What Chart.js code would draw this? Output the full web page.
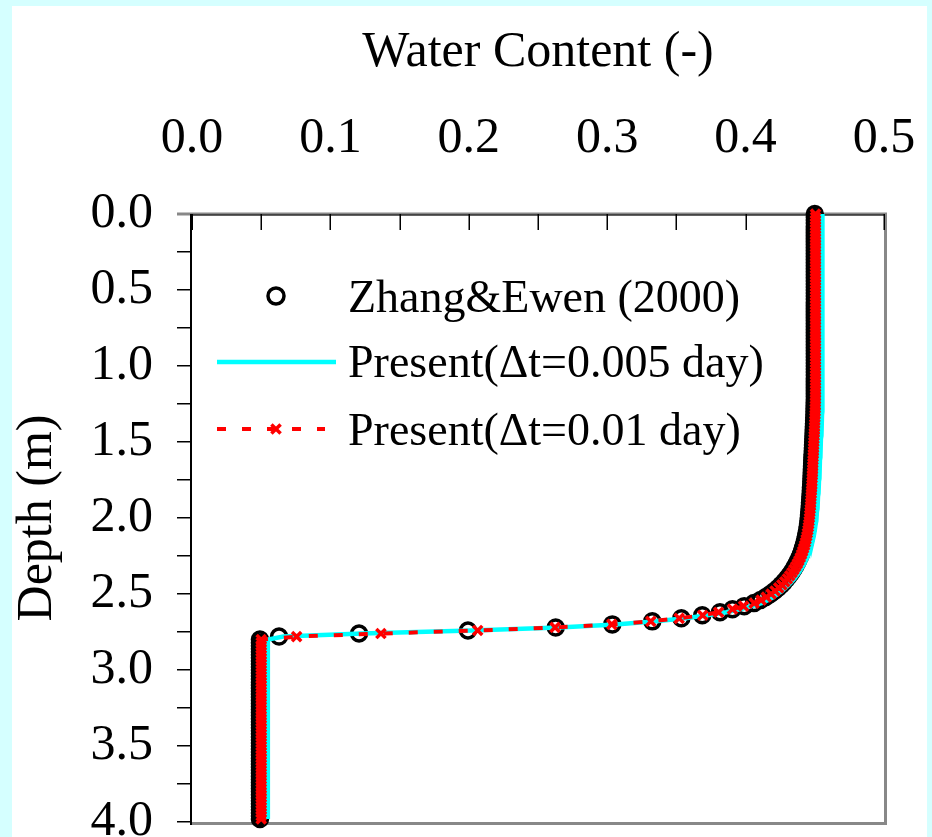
<!DOCTYPE html>
<html>
<head>
<meta charset="utf-8">
<script src="https://cdn.jsdelivr.net/npm/chart.js@4.4.1/dist/chart.umd.min.js"></script>
<style>
  html, body { margin:0; padding:0; background:#d5ffff; overflow:hidden; }
  #panel { position:absolute; left:12px; top:6px; width:915px; height:831px; background:#fff; }
  canvas { display:block; }
</style>
</head>
<body>
<div id="panel"><canvas id="chart" width="915" height="831"></canvas></div>
<script>
// ---------- Data ----------
// depth of the nodes (m)
const depthM = [
  0.00,0.02,0.04,0.06,0.08,0.10,0.12,0.14,0.16,0.18,
  0.20,0.22,0.24,0.26,0.28,0.30,0.32,0.34,0.36,0.38,
  0.40,0.42,0.44,0.46,0.48,0.50,0.52,0.54,0.56,0.58,
  0.60,0.62,0.64,0.66,0.68,0.70,0.72,0.74,0.76,0.78,
  0.80,0.82,0.84,0.86,0.88,0.90,0.92,0.94,0.96,0.98,
  1.00,1.02,1.04,1.06,1.08,1.10,1.12,1.14,1.16,1.18,
  1.20,1.22,1.24,1.26,1.28,1.30,1.32,1.34,1.36,1.38,
  1.40,1.42,1.44,1.46,1.48,1.50,1.52,1.54,1.56,1.58,
  1.60,1.62,1.64,1.66,1.68,1.70,1.72,1.74,1.76,1.78,
  1.80,1.82,1.84,1.86,1.88,1.90,1.92,1.94,1.96,1.98,
  2.00,2.02,2.04,2.06,2.08,2.10,2.12,2.14,2.16,2.18,
  2.20,2.22,2.24,2.26,2.28,2.30,2.32,2.34,2.36,2.38,
  2.40,2.42,2.44,2.46,2.48,2.50,2.52,2.54,2.56,2.58,
  2.60,2.62,2.64,2.66,2.68,2.70,2.72,2.74,2.76,2.78,
  2.80,2.82,2.84,2.86,2.88,2.90,2.92,2.94,2.96,2.98,
  3.00,3.02,3.04,3.06,3.08,3.10,3.12,3.14,3.16,3.18,
  3.20,3.22,3.24,3.26,3.28,3.30,3.32,3.34,3.36,3.38,
  3.40,3.42,3.44,3.46,3.48,3.50,3.52,3.54,3.56,3.58,
  3.60,3.62,3.64,3.66,3.68,3.70,3.72,3.74,3.76,3.78,
  3.80,3.82,3.84,3.86,3.88,3.90,3.92,3.94,3.96,3.98
];

// Zhang & Ewen (2000) water content
const zhangWC = [
  .4500,.4500,.4500,.4500,.4500,.4500,.4500,.4500,.4500,.4500,
  .4500,.4500,.4500,.4500,.4500,.4500,.4500,.4500,.4500,.4500,
  .4500,.4500,.4500,.4500,.4500,.4500,.4500,.4500,.4500,.4500,
  .4500,.4500,.4500,.4500,.4500,.4500,.4500,.4500,.4500,.4500,
  .4500,.4500,.4500,.4500,.4500,.4500,.4500,.4500,.4500,.4500,
  .4500,.4500,.4500,.4500,.4500,.4500,.4500,.4500,.4500,.4500,
  .4500,.4500,.4499,.4499,.4498,.4498,.4497,.4496,.4495,.4494,
  .4493,.4492,.4491,.4490,.4489,.4488,.4487,.4486,.4485,.4484,
  .4483,.4482,.4481,.4480,.4479,.4478,.4477,.4476,.4475,.4474,
  .4472,.4471,.4470,.4468,.4467,.4465,.4464,.4462,.4460,.4458,
  .4456,.4454,.4451,.4448,.4445,.4441,.4437,.4432,.4427,.4421,
  .4414,.4407,.4399,.4390,.4380,.4369,.4357,.4344,.4330,.4314,
  .4297,.4278,.4257,.4234,.4208,.4179,.4146,.4108,.4060,.3990,
  .3905,.3815,.3687,.3536,.3326,.3037,.2628,.1994,.1207,.0629,
  .0491,.0491,.0491,.0491,.0491,.0491,.0491,.0491,.0491,.0491,
  .0491,.0491,.0491,.0491,.0491,.0491,.0491,.0491,.0491,.0491,
  .0491,.0491,.0491,.0491,.0491,.0491,.0491,.0491,.0491,.0491,
  .0491,.0491,.0491,.0491,.0491,.0491,.0491,.0491,.0491,.0491,
  .0491,.0491,.0491,.0491,.0491,.0491,.0491,.0491,.0491,.0491,
  .0491,.0491,.0491,.0491,.0491,.0491,.0491,.0491,.0491,.0491
];

// present model, dt = 0.005 day
const presentWC005 = [
  .4555,.4555,.4555,.4555,.4555,.4555,.4555,.4555,.4555,.4555,
  .4555,.4555,.4555,.4555,.4555,.4555,.4555,.4555,.4555,.4555,
  .4555,.4555,.4555,.4555,.4555,.4555,.4555,.4555,.4555,.4555,
  .4555,.4555,.4555,.4555,.4555,.4555,.4555,.4555,.4555,.4555,
  .4555,.4555,.4555,.4555,.4555,.4555,.4555,.4555,.4555,.4555,
  .4555,.4555,.4555,.4555,.4555,.4555,.4555,.4555,.4555,.4555,
  .4555,.4555,.4554,.4554,.4553,.4553,.4552,.4551,.4550,.4549,
  .4548,.4547,.4546,.4545,.4544,.4543,.4542,.4541,.4540,.4539,
  .4538,.4537,.4536,.4535,.4534,.4533,.4532,.4531,.4530,.4529,
  .4527,.4526,.4525,.4523,.4522,.4520,.4519,.4517,.4515,.4513,
  .4511,.4509,.4506,.4503,.4500,.4496,.4492,.4487,.4482,.4476,
  .4469,.4462,.4454,.4445,.4435,.4424,.4412,.4399,.4385,.4369,
  .4352,.4333,.4312,.4289,.4263,.4234,.4201,.4163,.4115,.4045,
  .3960,.3860,.3725,.3565,.3350,.3060,.2650,.2020,.1230,.0660,
  .0548,.0548,.0548,.0548,.0548,.0548,.0548,.0548,.0548,.0548,
  .0548,.0548,.0548,.0548,.0548,.0548,.0548,.0548,.0548,.0548,
  .0548,.0548,.0548,.0548,.0548,.0548,.0548,.0548,.0548,.0548,
  .0548,.0548,.0548,.0548,.0548,.0548,.0548,.0548,.0548,.0548,
  .0548,.0548,.0548,.0548,.0548,.0548,.0548,.0548,.0548,.0548,
  .0548,.0548,.0548,.0548,.0548,.0548,.0548,.0548,.0548,.0548
];

// present model, dt = 0.01 day
const presentWC01 = [
  .4505,.4505,.4505,.4505,.4505,.4505,.4505,.4505,.4505,.4505,
  .4505,.4505,.4505,.4505,.4505,.4505,.4505,.4505,.4505,.4505,
  .4505,.4505,.4505,.4505,.4505,.4505,.4505,.4505,.4505,.4505,
  .4505,.4505,.4505,.4505,.4505,.4505,.4505,.4505,.4505,.4505,
  .4505,.4505,.4505,.4505,.4505,.4505,.4505,.4505,.4505,.4505,
  .4505,.4505,.4505,.4505,.4505,.4505,.4505,.4505,.4505,.4505,
  .4505,.4505,.4504,.4504,.4503,.4503,.4502,.4501,.4500,.4499,
  .4498,.4497,.4496,.4495,.4494,.4493,.4492,.4491,.4490,.4489,
  .4488,.4487,.4486,.4485,.4484,.4483,.4482,.4481,.4480,.4479,
  .4477,.4476,.4475,.4473,.4472,.4470,.4469,.4467,.4465,.4463,
  .4461,.4459,.4456,.4453,.4450,.4446,.4442,.4437,.4432,.4426,
  .4419,.4412,.4404,.4395,.4385,.4374,.4362,.4349,.4335,.4319,
  .4302,.4283,.4262,.4239,.4213,.4184,.4150,.4112,.4062,.3985,
  .3905,.3805,.3690,.3520,.3315,.3033,.2623,.2064,.1365,.0756,
  .0500,.0500,.0500,.0500,.0500,.0500,.0500,.0500,.0500,.0500,
  .0500,.0500,.0500,.0500,.0500,.0500,.0500,.0500,.0500,.0500,
  .0500,.0500,.0500,.0500,.0500,.0500,.0500,.0500,.0500,.0500,
  .0500,.0500,.0500,.0500,.0500,.0500,.0500,.0500,.0500,.0500,
  .0500,.0500,.0500,.0500,.0500,.0500,.0500,.0500,.0500,.0500,
  .0500,.0500,.0500,.0500,.0500,.0500,.0500,.0500,.0500,.0500
];

const seriesLabels = ['Zhang&Ewen (2000)', 'Present(\u0394t=0.005 day)', 'Present(\u0394t=0.01 day)'];
const xTitle = 'Water Content (-)';
const yTitle = 'Depth (m)';

const FONT = "'Liberation Serif', 'Times New Roman', serif";

function toPoints(wc){ return depthM.map((d,i) => ({ x: wc[i], y: d })); }

// ---------- Plugins ----------
// frame + inside ticks on top axis
const framePlugin = {
  id: 'frame',
  beforeDatasetsDraw(chart){
    const { ctx, chartArea:{left,top,right,bottom}, scales:{x} } = chart;
    ctx.save();
    ctx.strokeStyle = '#888'; ctx.lineWidth = 3;
    ctx.beginPath();
    ctx.moveTo(left-15, top); ctx.lineTo(right+1.5, top);
    ctx.moveTo(right+1.5, top-1.5); ctx.lineTo(right+1.5, bottom+3);
    ctx.moveTo(left, bottom+1.5); ctx.lineTo(right+3, bottom+1.5);
    ctx.stroke();
    ctx.strokeStyle = '#000'; ctx.lineWidth = 1;
    ctx.beginPath(); ctx.moveTo(left, top+1); ctx.lineTo(right, top+1); ctx.stroke();
    ctx.lineWidth = 2;
    ctx.beginPath(); ctx.moveTo(left-1, top); ctx.lineTo(left-1, bottom+3); ctx.stroke();
    // top axis ticks pointing inside
    ctx.lineWidth = 1.5;
    ctx.beginPath();
    x.ticks.forEach(t => {
      const px = Math.round(x.getPixelForValue(t.value)) + 0.25;
      ctx.moveTo(px, top); ctx.lineTo(px, top+16);
    });
    ctx.stroke();
    ctx.restore();
  }
};

// legend inside plot
const legendPlugin = {
  id: 'insideLegend',
  afterDatasetsDraw(chart){
    const { ctx } = chart;
    const ds = chart.data.datasets;
    const textX = 336, rows = [290, 356, 423];
    ctx.save();
    // row 1: circle marker
    ctx.strokeStyle = ds[0].pointBorderColor; ctx.lineWidth = ds[0].pointBorderWidth;
    ctx.beginPath(); ctx.arc(264, rows[0], 8, 0, Math.PI*2); ctx.stroke();
    // row 2: cyan line
    ctx.strokeStyle = ds[1].borderColor; ctx.lineWidth = ds[1].borderWidth;
    ctx.beginPath(); ctx.moveTo(205, rows[1]); ctx.lineTo(324, rows[1]); ctx.stroke();
    // row 3: red dashed + cross
    ctx.strokeStyle = ds[2].borderColor; ctx.lineWidth = ds[2].borderWidth;
    ctx.setLineDash(ds[2].borderDash);
    ctx.beginPath(); ctx.moveTo(205, rows[2]); ctx.lineTo(313, rows[2]); ctx.stroke();
    ctx.setLineDash([]);
    ctx.lineWidth = ds[2].pointBorderWidth;
    const r = ds[2].pointRadius * Math.SQRT1_2;
    ctx.beginPath();
    ctx.moveTo(264-r, rows[2]-r); ctx.lineTo(264+r, rows[2]+r);
    ctx.moveTo(264+r, rows[2]-r); ctx.lineTo(264-r, rows[2]+r);
    ctx.stroke();
    // texts
    ctx.fillStyle = '#000';
    ctx.font = '46px ' + FONT;
    ctx.textBaseline = 'alphabetic';
    ctx.textAlign = 'left';
    ctx.fillText(seriesLabels[0], textX, rows[0]+16);
    ctx.fillText(seriesLabels[1], textX, rows[1]+15);
    ctx.fillText(seriesLabels[2], textX, rows[2]+16);
    ctx.restore();
  }
};

// ---------- Chart ----------
const ctx = document.getElementById('chart').getContext('2d');
const chart = new Chart(ctx, {
  type: 'scatter',
  data: {
    datasets: [
      {
        label: seriesLabels[0], data: toPoints(zhangWC), order: 2,
        showLine: false, pointStyle: 'circle', pointRadius: 7.5, pointBorderWidth: 3.5,
        pointBorderColor: '#000', pointBackgroundColor: 'rgba(0,0,0,0)', clip: false
      },
      {
        label: seriesLabels[1], data: toPoints(presentWC005), order: 1,
        showLine: true, borderColor: '#00ffff', borderWidth: 4.5, pointRadius: 0, tension: 0, clip: false
      },
      {
        label: seriesLabels[2], data: toPoints(presentWC01), order: 0,
        showLine: true, borderColor: '#ff0000', borderWidth: 4, borderDash: [9,16],
        pointStyle: 'crossRot', pointRadius: 6.5, pointBorderWidth: 3.5,
        pointBorderColor: '#ff0000', pointBackgroundColor: '#ff0000', tension: 0, clip: false
      }
    ]
  },
  options: {
    responsive: false,
    animation: false,
    events: [],
    layout: { padding: { left: 0, top: 0, right: 43, bottom: 15 } },
    plugins: { legend: { display: false }, tooltip: { enabled: false } },
    scales: {
      x: {
        type: 'linear', position: 'top', min: 0, max: 0.5,
        grid: { display: false, drawOnChartArea: false, drawTicks: false },
        border: { display: false },
        ticks: {
          stepSize: 0.05, autoSkip: false, maxRotation: 0, padding: 50, color: '#000',
          font: { family: FONT, size: 50, lineHeight: 1 },
          callback: v => Math.abs(v*10 - Math.round(v*10)) < 1e-6 ? v.toFixed(1) : ''
        },
        title: {
          display: true, text: xTitle, color: '#000',
          font: { family: FONT, size: 50, lineHeight: 1 }, padding: { top: 22, bottom: 0 }
        },
        afterFit: s => { s.height = 208; s.paddingLeft = 0; s.paddingRight = 0; }
      },
      y: {
        type: 'linear', reverse: true, min: 0, max: 4,
        grid: { drawOnChartArea: false, drawTicks: true, tickLength: 15, color: '#000', lineWidth: 1.5 },
        border: { display: false },
        ticks: {
          stepSize: 0.25, autoSkip: false, padding: 24, color: '#000',
          font: { family: FONT, size: 50, lineHeight: 1 },
          callback: v => Math.abs(v*2 - Math.round(v*2)) < 1e-6 ? v.toFixed(1) : ''
        },
        title: {
          display: true, text: yTitle, color: '#000',
          font: { family: FONT, size: 50, lineHeight: 1 }, padding: { top: 1, bottom: 0 }
        },
        afterFit: s => { s.width = 180; s.paddingTop = 0; s.paddingBottom = 0; }
      }
    }
  },
  plugins: [framePlugin, legendPlugin]
});
</script>
</body>
</html>
